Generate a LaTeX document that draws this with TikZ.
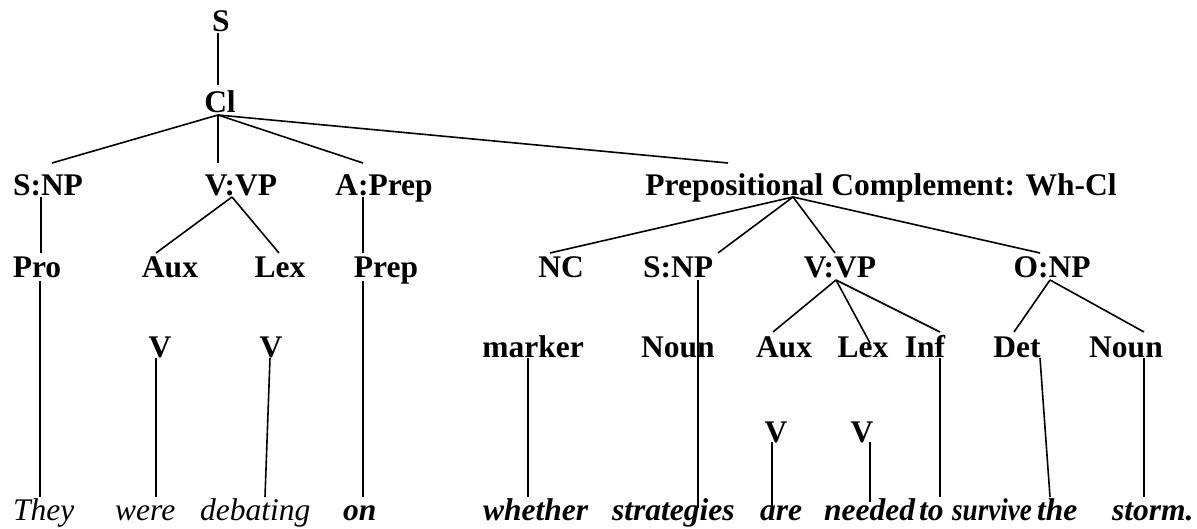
\documentclass[tikz,border=0pt]{standalone}
\usepackage{fontspec}
\setmainfont{Liberation Serif}
\begin{document}
\begin{tikzpicture}[x=1pt,y=-1pt,
  lab/.style={font=\fontsize{31.5}{36}\selectfont\bfseries, inner sep=0pt, anchor=base},
  word/.style={font=\fontsize{31.5}{36}\selectfont\itshape, inner sep=0pt, anchor=base west},
  bword/.style={font=\fontsize{31.5}{36}\selectfont\bfseries\itshape, inner sep=0pt, anchor=base west},
  branch/.style={line width=1.6pt}]
\useasboundingbox (0,0) rectangle (1197,529);

% category labels
\node[lab] (s)     at (221,32)  {S};
\node[lab] (cl)    at (220,113) {Cl};
\node[lab] (snp)   at (48,196)  {S:NP};
\node[lab] (vvp)   at (241,196) {V:VP};
\node[lab] (aprep) at (384,196) {A:Prep};
\node[lab] (pc)    at (881,196) {Prepositional Complement: Wh-Cl};
\node[lab] (pro)   at (37,278)  {Pro};
\node[lab] (aux)   at (170,278) {Aux};
\node[lab] (lex)   at (280,278) {Lex};
\node[lab] (prep)  at (386,278) {Prep};
\node[lab] (nc)    at (561,278) {NC};
\node[lab] (snpb)  at (678,278) {S:NP};
\node[lab] (vvpb)  at (840,278) {V:VP};
\node[lab] (onp)   at (1052,278) {O:NP};
\node[lab] (va)    at (160,358) {V};
\node[lab] (vb)    at (271,358) {V};
\node[lab] (mark)  at (533,358) {marker};
\node[lab] (noun)  at (678,358) {Noun};
\node[lab] (auxb)  at (784,358) {Aux};
\node[lab] (lexb)  at (863,358) {Lex};
\node[lab] (inf)   at (925,358) {Inf};
\node[lab] (det)   at (1017,358) {Det};
\node[lab] (nounb) at (1126,358) {Noun};
\node[lab] (vc)    at (776,442) {V};
\node[lab] (vd)    at (862,442) {V};

% the sentence
\node[word]  (w1)  at (13,520)   {They};
\node[word]  (w2)  at (115,520)  {were};
\node[word]  (w3)  at (200,520)  {debating};
\node[bword] (w4)  at (343,520)  {on};
\node[bword] (w5)  at (483,520)  {whether};
\node[bword] (w6)  at (612,520)  {strategies};
\node[bword] (w7)  at (760,520)  {are};
\node[bword] (w8)  at (824,520)  {needed};
\node[bword] (w9)  at (919,520)  {to};
\node[bword] (w10) at (952,520)  {\scalebox{0.86}[1]{survive}};
\node[bword] (w11) at (1037,520) {the};
\node[bword] (w12) at (1112,520) {storm.};

% attachment points of the branches
\coordinate (s-dn)     at (218,33);
\coordinate (cl-up)    at (218,85);
\coordinate (cl-dn)    at (218,115);
\coordinate (snp-up)   at (52,163);
\coordinate (vvp-up)   at (218,163);
\coordinate (aprep-up) at (363,163);
\coordinate (pc-up)    at (728,163);
\coordinate (snp-dn)   at (41,197);
\coordinate (pro-up)   at (41,253);
\coordinate (pro-dn)   at (40,281);
\coordinate (w1-up)    at (40,497);
\coordinate (vvp-dn)   at (232,197);
\coordinate (aux-up)   at (156,253);
\coordinate (lex-up)   at (279,253);
\coordinate (va-dn)    at (156,358);
\coordinate (w2-up)    at (156,497);
\coordinate (vb-dn)    at (270,358);
\coordinate (w3-up)    at (265,497);
\coordinate (aprep-dn) at (363,197);
\coordinate (prep-up)  at (363,253);
\coordinate (prep-dn)  at (363,281);
\coordinate (w4-up)    at (363,497);
\coordinate (pc-dn)    at (793,197);
\coordinate (nc-up)    at (550,253);
\coordinate (snpb-up)  at (718,253);
\coordinate (vvpb-up)  at (835,253);
\coordinate (onp-up)   at (1040,253);
\coordinate (snpb-dn)  at (698,280);
\coordinate (w6-up)    at (698,508);
\coordinate (mark-dn)  at (528,358);
\coordinate (w5-up)    at (528,497);
\coordinate (vvpb-dn)  at (836,280);
\coordinate (auxb-up)  at (773,332);
\coordinate (lexb-up)  at (870,343);
\coordinate (inf-up)   at (940,332);
\coordinate (onp-dn)   at (1050,280);
\coordinate (det-up)   at (1014,332);
\coordinate (nounb-up) at (1144,332);
\coordinate (inf-dn)   at (940,358);
\coordinate (w9-up)    at (940,497);
\coordinate (det-dn)   at (1040,358);
\coordinate (w11-up)   at (1050,497);
\coordinate (nounb-dn) at (1144,358);
\coordinate (w12-up)   at (1144,497);
\coordinate (vc-dn)    at (772,442);
\coordinate (w7-up)    at (772,508);
\coordinate (vd-dn)    at (870,442);
\coordinate (w8-up)    at (870,502);

% branches
\draw[branch] (s-dn) -- (cl-up);
\draw[branch] (cl-dn) -- (snp-up);
\draw[branch] (cl-dn) -- (vvp-up);
\draw[branch] (cl-dn) -- (aprep-up);
\draw[branch] (cl-dn) -- (pc-up);
\draw[branch] (snp-dn) -- (pro-up);
\draw[branch] (pro-dn) -- (w1-up);
\draw[branch] (vvp-dn) -- (aux-up);
\draw[branch] (vvp-dn) -- (lex-up);
\draw[branch] (va-dn) -- (w2-up);
\draw[branch] (vb-dn) -- (w3-up);
\draw[branch] (aprep-dn) -- (prep-up);
\draw[branch] (prep-dn) -- (w4-up);
\draw[branch] (pc-dn) -- (nc-up);
\draw[branch] (pc-dn) -- (snpb-up);
\draw[branch] (pc-dn) -- (vvpb-up);
\draw[branch] (pc-dn) -- (onp-up);
\draw[branch] (snpb-dn) -- (w6-up);
\draw[branch] (mark-dn) -- (w5-up);
\draw[branch] (vvpb-dn) -- (auxb-up);
\draw[branch] (vvpb-dn) -- (lexb-up);
\draw[branch] (vvpb-dn) -- (inf-up);
\draw[branch] (onp-dn) -- (det-up);
\draw[branch] (onp-dn) -- (nounb-up);
\draw[branch] (inf-dn) -- (w9-up);
\draw[branch] (det-dn) -- (w11-up);
\draw[branch] (nounb-dn) -- (w12-up);
\draw[branch] (vc-dn) -- (w7-up);
\draw[branch] (vd-dn) -- (w8-up);
\end{tikzpicture}
\end{document}
